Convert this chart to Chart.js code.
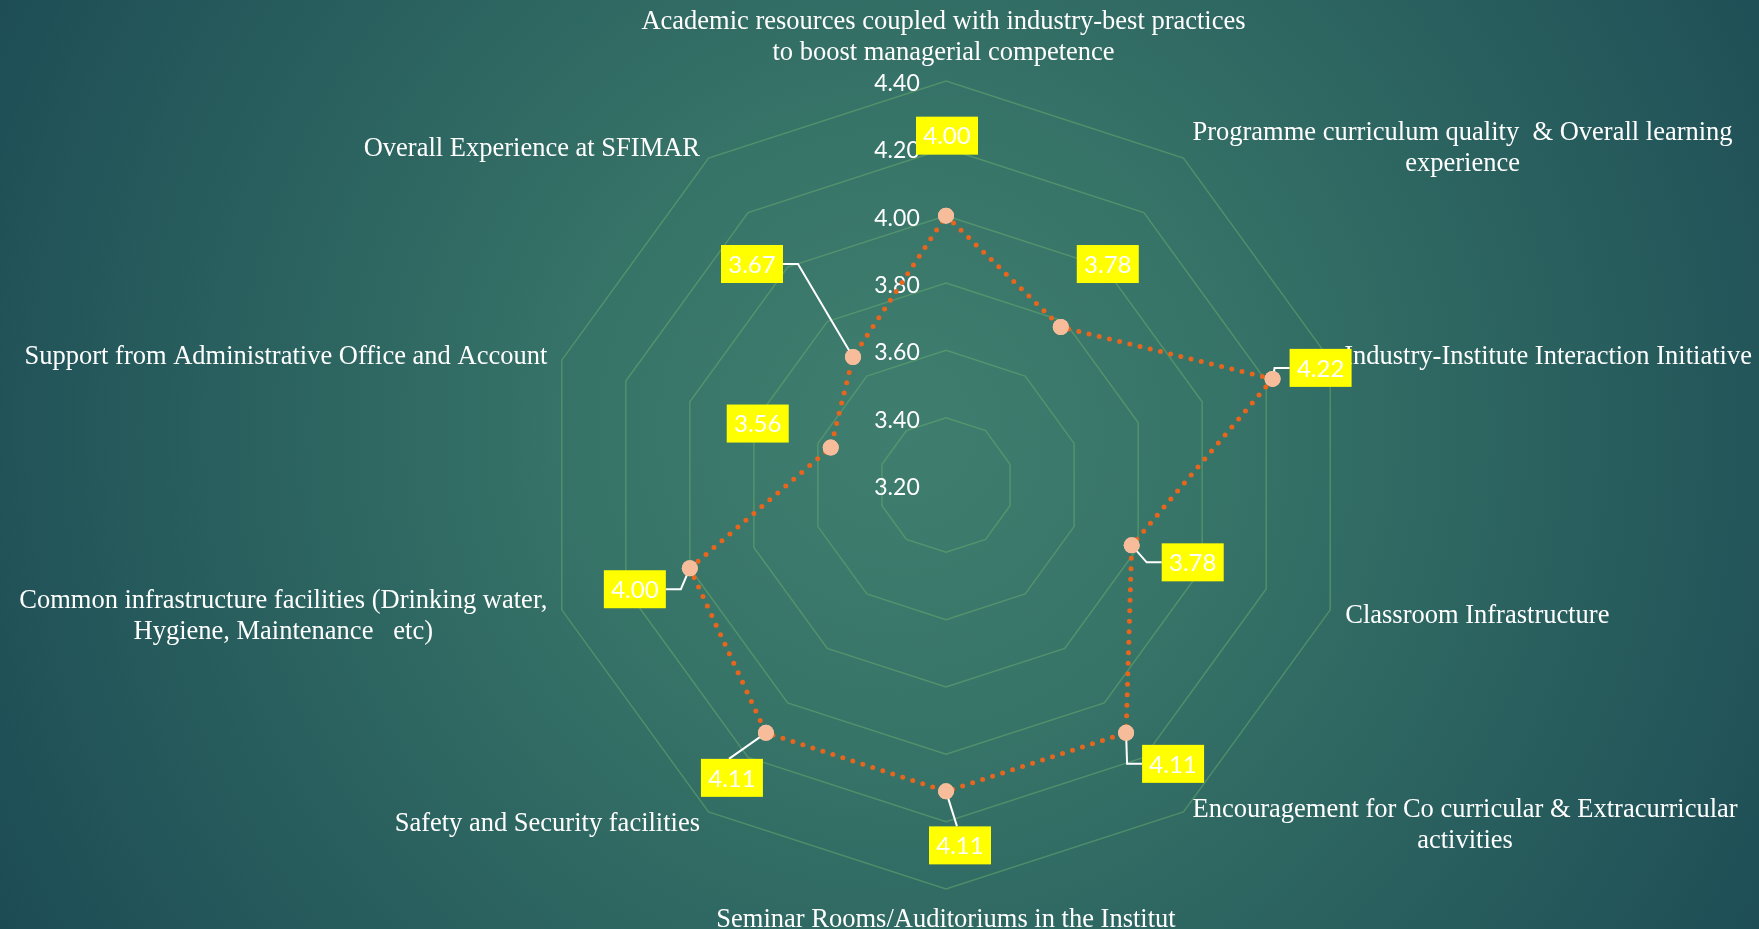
<!DOCTYPE html>
<html>
<head>
<meta charset="utf-8">
<script src="https://cdn.jsdelivr.net/npm/chart.js@4.4.0/dist/chart.umd.min.js"></script>
<style>
  html, body { margin: 0; padding: 0; width: 1759px; height: 929px; overflow: hidden; }
  body { background: radial-gradient(circle 1050px at 900px 430px, #3f7e6f 0%, #377468 30%, #2a615f 62%, #1c4a54 100%); }
  #wrap { position: absolute; left: 0; top: 0; width: 1759px; height: 929px; }
</style>
</head>
<body>
<div id="wrap"><canvas id="c" width="1759" height="929"></canvas></div>
<script>
// ---- data ----
const categoryLabels = [
  ['Academic resources coupled with industry-best practices', 'to boost managerial competence'],
  ['Programme curriculum quality  & Overall learning', 'experience'],
  ['Industry-Institute Interaction Initiative'],
  ['Classroom Infrastructure'],
  ['Encouragement for Co curricular & Extracurricular', 'activities'],
  ['Seminar Rooms/Auditoriums in the Institut'],
  ['Safety and Security facilities'],
  ['Common infrastructure facilities (Drinking water,', 'Hygiene, Maintenance   etc)'],
  ['Support from Administrative Office and Account'],
  ['Overall Experience at SFIMAR']
];
const scores = [4.00, 3.78, 4.22, 3.78, 4.11, 4.11, 4.11, 4.00, 3.56, 3.67];
const tickValues = [3.20, 3.40, 3.60, 3.80, 4.00, 4.20, 4.40];

// ---- styling / placement (pixels) ----
const labelNudge = [[-2.5,-43.5],[9,-9.5],[14,-3],[15,6],[9,13.5],[0,31],[-8.5,12.5],[-14.5,6.5],[-14.5,-3],[-8.5,-9.5]];
const boxOffset  = [[1,-80],[47,-63],[48,-11],[61,17],[47,31],[14,54],[-34,45],[-55,21],[-73,-24],[-101,-93]];
const leaderType = ['none','none','side','side','side','top','top','side','none','side'];
const BOX_W = 62, BOX_H = 38;
const SERIF = '26.5px "Liberation Serif", "Times New Roman", serif';
const GEO = '"Lato", "Open Sans", sans-serif';

const customDraw = {
  id: 'customDraw',
  beforeDatasetsDraw(chart) {
    const s = chart.scales.r;
    const ctx = chart.ctx;
    ctx.save();
    // tick labels
    ctx.font = '23px ' + GEO;
    ctx.fillStyle = '#ffffff';
    ctx.textAlign = 'center';
    ctx.textBaseline = 'middle';
    s.ticks.forEach(t => {
      const y = s.yCenter - s.getDistanceFromCenterForValue(t.value);
      ctx.fillText(t.value.toFixed(2), s.xCenter - 49, y + 2.5);
    });
    // category labels
    ctx.font = SERIF;
    ctx.textBaseline = 'middle';
    const lh = 30.5;
    categoryLabels.forEach((lines, i) => {
      const p = s.getPointPosition(i, s.drawingArea);
      const sn = Math.sin(p.angle + Math.PI / 2);
      const widths = lines.map(l => ctx.measureText(l).width);
      const bw = Math.max(...widths);
      let cx;
      const ax = p.x + labelNudge[i][0];
      if (sn > 0.1) cx = ax + bw / 2;
      else if (sn < -0.1) cx = ax - bw / 2;
      else cx = ax;
      const cy = p.y + labelNudge[i][1];
      const y0 = cy - (lines.length - 1) * lh / 2;
      ctx.textAlign = 'center';
      lines.forEach((l, k) => ctx.fillText(l, cx, y0 + k * lh));
    });
    ctx.restore();
  },
  afterDatasetsDraw(chart) {
    const ctx = chart.ctx;
    const meta = chart.getDatasetMeta(0);
    ctx.save();
    meta.data.forEach((pt, i) => {
      const bx = pt.x + boxOffset[i][0], by = pt.y + boxOffset[i][1];
      const left = bx - BOX_W / 2, right = bx + BOX_W / 2, top = by - BOX_H / 2;
      // leader line
      ctx.strokeStyle = '#ffffff';
      ctx.lineWidth = 2;
      if (leaderType[i] === 'side') {
        const toRight = bx > pt.x;
        const edge = toRight ? left : right;
        const elbow = toRight ? edge - 15 : edge + 15;
        ctx.beginPath();
        ctx.moveTo(pt.x, pt.y);
        ctx.lineTo(elbow, by);
        ctx.lineTo(edge, by);
        ctx.stroke();
      } else if (leaderType[i] === 'top') {
        ctx.beginPath();
        ctx.moveTo(pt.x, pt.y);
        ctx.lineTo(bx - 3, top);
        ctx.stroke();
      }
    });
    // redraw points over leader lines
    meta.data.forEach(pt => {
      ctx.beginPath();
      ctx.fillStyle = '#f7bd9b';
      ctx.arc(pt.x, pt.y, 8, 0, Math.PI * 2);
      ctx.fill();
    });
    meta.data.forEach((pt, i) => {
      const bx = pt.x + boxOffset[i][0], by = pt.y + boxOffset[i][1];
      ctx.fillStyle = '#ffff00';
      ctx.fillRect(bx - BOX_W / 2, by - BOX_H / 2, BOX_W, BOX_H);
      ctx.fillStyle = '#ffffff';
      ctx.font = '24px ' + GEO;
      ctx.textAlign = 'center';
      ctx.textBaseline = 'middle';
      ctx.fillText(scores[i].toFixed(2), bx, by + 1);
    });
    ctx.restore();
  }
};

new Chart(document.getElementById('c'), {
  type: 'radar',
  data: {
    labels: categoryLabels,
    datasets: [{
      data: scores,
      fill: false,
      borderColor: '#e8651e',
      borderWidth: 5,
      borderDash: [0, 10.5],
      borderCapStyle: 'round',
      backgroundColor: 'transparent',
      pointRadius: 8,
      pointHoverRadius: 8,
      pointBackgroundColor: '#f7bd9b',
      pointBorderWidth: 0,
      tension: 0
    }]
  },
  options: {
    responsive: false,
    devicePixelRatio: 1,
    animation: false,
    plugins: { legend: { display: false }, tooltip: { enabled: false } },
    scales: {
      r: {
        min: 3.2,
        max: 4.4,
        ticks: { display: false, stepSize: 0.2 },
        afterBuildTicks: (s) => { s.ticks = tickValues.map(v => ({ value: v })); },
        afterFit: (s) => { s.xCenter = 946; s.yCenter = 485; s.drawingArea = 404; },
        grid: { color: 'rgba(104,170,112,0.55)', lineWidth: 1.5 },
        angleLines: { display: false },
        pointLabels: { display: false }
      }
    }
  },
  plugins: [customDraw]
});
</script>
</body>
</html>
